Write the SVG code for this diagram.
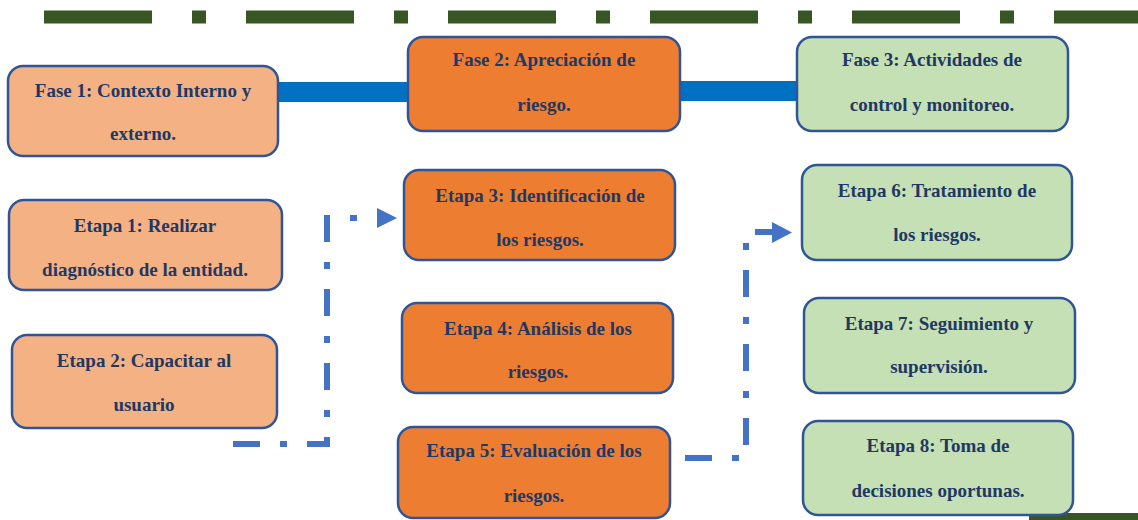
<svg xmlns="http://www.w3.org/2000/svg" width="1138" height="520" viewBox="0 0 1138 520">
<style>
.box{stroke:#2F5597;stroke-width:2.5}
.peach{fill:#F4B183}
.orange{fill:#ED7D31}
.green{fill:#C5E0B4}
.t{font-family:"Liberation Serif","Times New Roman",serif;font-weight:bold;font-size:19px;fill:#1F3864;text-anchor:middle}
.bar{fill:#0070C0}
.flow{fill:none;stroke:#4472C4;stroke-width:6;stroke-dasharray:27 20 7 20}
.head{fill:#4472C4}
</style>
<rect width="1138" height="520" fill="#FFFFFF"/>
<line x1="44" y1="17" x2="1138" y2="17" stroke="#375623" stroke-width="13" stroke-dasharray="108 40 14 40"/>
<rect x="1029" y="513" width="109" height="7" fill="#375623"/>
<g id="connectors">
<rect class="bar" x="276" y="82" width="134" height="20"/>
<rect class="bar" x="678" y="81" width="121" height="20"/>
<path class="flow" d="M233,444 H327 V218 H377"/>
<polygon class="head" points="377,208 397,218 377,228"/>
<path class="flow" d="M685,458 H746 V232 H772"/>
<polygon class="head" points="772,222 792,232.5 772,243"/>
</g>
<g id="fase1"><rect class="box peach" x="8" y="66" width="270" height="90" rx="15"/><text class="t" x="143" y="97">Fase 1: Contexto Interno y</text><text class="t" x="143" y="140">externo.</text></g>
<g id="fase2"><rect class="box orange" x="408" y="37" width="272" height="94" rx="15"/><text class="t" x="544" y="66">Fase 2: Apreciación de</text><text class="t" x="544" y="111">riesgo.</text></g>
<g id="fase3"><rect class="box green" x="797" y="37" width="271" height="94" rx="15"/><text class="t" x="932" y="66">Fase 3: Actividades de</text><text class="t" x="932" y="111">control y monitoreo.</text></g>
<g id="etapa1"><rect class="box peach" x="9" y="200" width="273" height="90" rx="15"/><text class="t" x="145" y="232">Etapa 1: Realizar</text><text class="t" x="145" y="276">diagnóstico de la entidad.</text></g>
<g id="etapa2"><rect class="box peach" x="12" y="335" width="265" height="93" rx="15"/><text class="t" x="144" y="367">Etapa 2: Capacitar al</text><text class="t" x="144" y="411">usuario</text></g>
<g id="etapa3"><rect class="box orange" x="404" y="170" width="271" height="90" rx="15"/><text class="t" x="540" y="202">Etapa 3: Identificación de</text><text class="t" x="540" y="246">los riesgos.</text></g>
<g id="etapa4"><rect class="box orange" x="402" y="303" width="271" height="90" rx="15"/><text class="t" x="538" y="335">Etapa 4: Análisis de los</text><text class="t" x="538" y="378">riesgos.</text></g>
<g id="etapa5"><rect class="box orange" x="398" y="427" width="272" height="91" rx="15"/><text class="t" x="534" y="457">Etapa 5: Evaluación de los</text><text class="t" x="534" y="502">riesgos.</text></g>
<g id="etapa6"><rect class="box green" x="802" y="165" width="270" height="95" rx="15"/><text class="t" x="937" y="197">Etapa 6: Tratamiento de</text><text class="t" x="937" y="241">los riesgos.</text></g>
<g id="etapa7"><rect class="box green" x="804" y="298" width="271" height="95" rx="15"/><text class="t" x="939" y="330">Etapa 7: Seguimiento y</text><text class="t" x="939" y="373">supervisión.</text></g>
<g id="etapa8"><rect class="box green" x="803" y="421" width="270" height="94" rx="15"/><text class="t" x="938" y="452">Etapa 8: Toma de</text><text class="t" x="938" y="497">decisiones oportunas.</text></g>
</svg>
